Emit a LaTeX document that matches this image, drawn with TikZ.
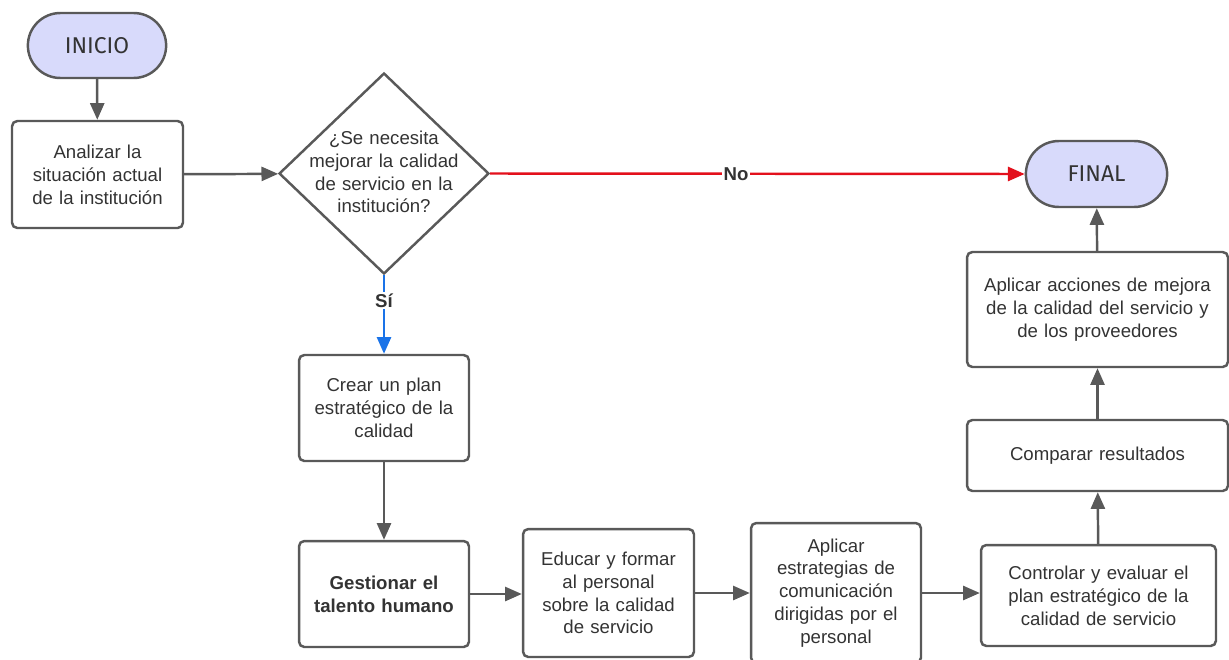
\documentclass[tikz,border=0pt]{standalone}
\usepackage{fontspec}
\setmainfont{Liberation Sans}
\newfontfamily\termfont{Fira Sans}
\usetikzlibrary{arrows.meta,shapes.geometric,shapes.misc}
\definecolor{lc}{HTML}{595959}
\definecolor{tc}{HTML}{333333}
\definecolor{lav}{HTML}{D8DAFB}
\definecolor{redl}{HTML}{E3101C}
\definecolor{bluel}{HTML}{1A73E8}
\begin{document}
\begin{tikzpicture}[x=0.02cm,y=-0.02cm,
  every node/.style={text=tc, font=\fontsize{10.6}{13}\selectfont},
  proc/.style={draw=lc, line width=1.4pt, rounded corners=3pt, fill=white, align=center, inner sep=2pt},
  term/.style={draw=lc, line width=1.4pt, rounded rectangle, fill=lav, font=\termfont\fontsize{13}{15}\selectfont, minimum width=3.0cm, minimum height=1.3cm},
  dec/.style={draw=lc, line width=1.4pt, diamond, fill=white, align=center, inner sep=0pt, minimum width=4.2cm, minimum height=4.02cm},
  conn/.style={draw=lc, line width=1.4pt, -{Triangle[length=9.5pt,width=8pt]}},
  lbl/.style={fill=white, inner sep=1pt, font=\bfseries\fontsize{10.6}{13}\selectfont}
]
\useasboundingbox (0,0) rectangle (1229,659);
\node[term] (ini) at (97,45.5) {INICIO};
\node[proc, minimum width=3.42cm, minimum height=2.14cm, text width=3.2cm] (ana) at (97.5,174.5) {Analizar la\\situación actual\\de la institución};
\node[dec] (dec) at (384,173.5) {};
\node[align=center, text width=3.3cm] (dtx) at (384,172) {¿Se necesita\\mejorar la calidad\\de servicio en la\\institución?};
\node[term, minimum width=3.06cm, minimum height=1.32cm] (fin) at (1096.5,174) {FINAL};
\node[proc, minimum width=5.22cm, minimum height=2.3cm, text width=5.0cm] (acc) at (1097.5,309.5) {Aplicar acciones de mejora\\de la calidad del servicio y\\de los proveedores};
\node[proc, minimum width=5.22cm, minimum height=1.42cm, text width=5.0cm] (com) at (1097.5,455.5) {Comparar resultados};
\node[proc, minimum width=4.7cm, minimum height=2.02cm, text width=4.5cm] (con) at (1098.5,595.5) {Controlar y evaluar el\\plan estratégico de la\\calidad de servicio};
\node[proc, minimum width=3.4cm, minimum height=2.12cm, text width=3.2cm] (cre) at (384,408) {Crear un plan\\estratégico de la\\calidad};
\node[proc, minimum width=3.4cm, minimum height=2.12cm, text width=3.2cm, font=\bfseries\fontsize{10.6}{13}\selectfont] (ges) at (384,594) {Gestionar el\\talento humano};
\node[proc, minimum width=3.42cm, minimum height=2.56cm, text width=3.2cm] (edu) at (608.5,593) {Educar y formar\\al personal\\sobre la calidad\\de servicio};
\node[proc, minimum width=3.4cm, minimum height=2.8cm, text width=3.2cm] (est) at (836,593) {Aplicar\\estrategias de\\comunicación\\dirigidas por el\\personal};
\draw[conn] (ini) -- (ana);
\draw[conn] (ana) -- (dec);
\draw[conn, draw=redl, redl] (dec.east) -- node[lbl, pos=0.46] (no) {No} (fin.west);
\draw[conn, draw=bluel, bluel] (dec.south) -- node[lbl, pos=0.32] (si) {Sí} (cre.north);
\draw[conn] (cre) -- (ges);
\draw[conn] (ges.east) -- (ges.east -| edu.west);
\draw[conn] (edu.east) -- (edu.east -| est.west);
\draw[conn] (est.east) -- (est.east -| con.west);
\draw[conn] (con) -- (com);
\draw[conn] (com) -- (acc);
\draw[conn] (acc) -- (fin);
\end{tikzpicture}
\end{document}
